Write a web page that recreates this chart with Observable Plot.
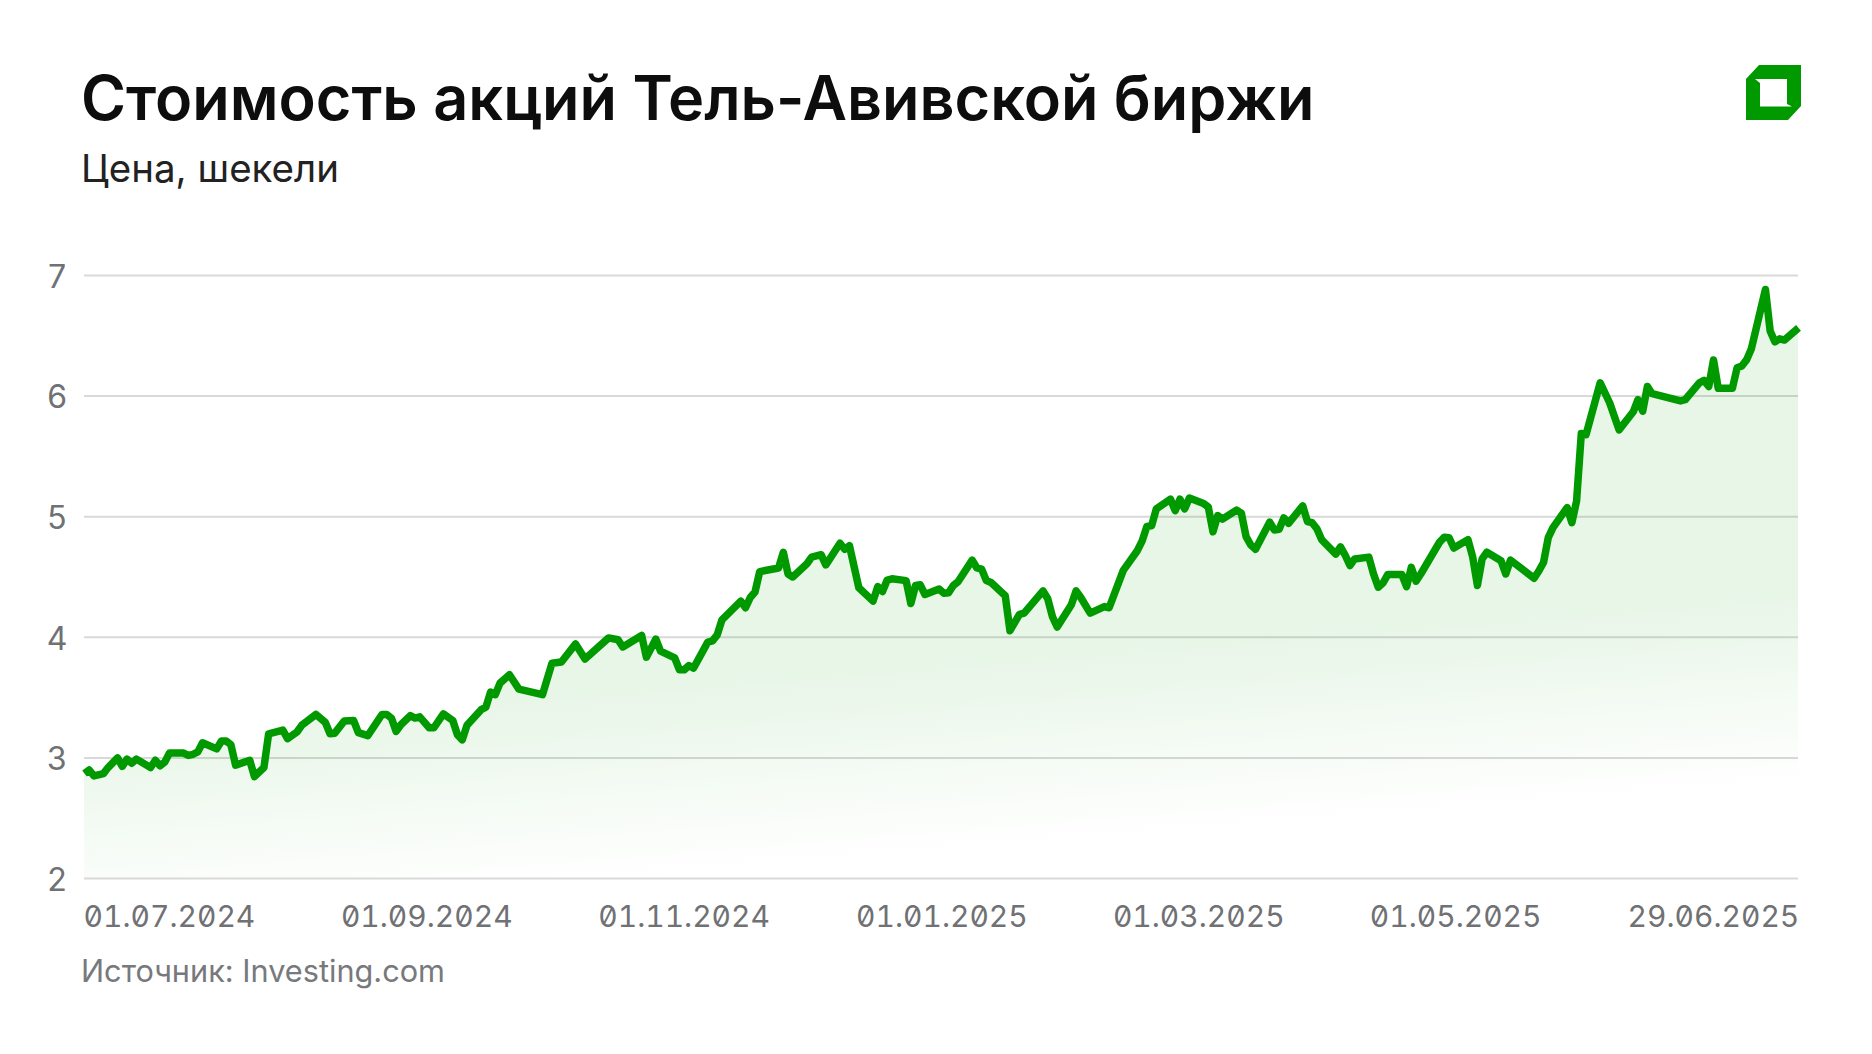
<!DOCTYPE html>
<html lang="ru">
<head>
<meta charset="utf-8">
<script src="https://cdn.jsdelivr.net/npm/d3@7"></script>
<script src="https://cdn.jsdelivr.net/npm/@observablehq/plot@0.6"></script>
<style>
html,body{margin:0;padding:0;background:#fff;width:1872px;height:1054px;overflow:hidden}
body{position:relative;font-family:Inter,"Noto Sans",sans-serif}
#title{position:absolute;left:81px;top:64px;font-size:61.2px;font-weight:600;line-height:68px;color:#0d0d0d;white-space:nowrap}
#subtitle{position:absolute;left:81px;top:145px;font-size:38.5px;line-height:46px;color:#222;white-space:nowrap}
#source{position:absolute;left:81px;top:949px;font-size:30.7px;line-height:44px;color:#77797c;white-space:nowrap}
#logo{position:absolute;left:-8px;top:0}
#chart{position:absolute;left:0;top:200px}
#chart svg{display:block;overflow:visible}
.xt text{font-feature-settings:"zero","tnum"}
</style>
</head>
<body>
<div id="title">Стоимость акций Тель-Авивской биржи</div>
<div id="subtitle">Цена, шекели</div>
<svg id="logo" width="1872" height="140"><path fill="#009900" fill-rule="evenodd" d="M1767 65H1809V106L1796 120H1754V79ZM1763 79H1795V104L1800 106.5H1768V83Z"/></svg>
<div id="chart"></div>
<div id="source">Источник: Investing.com</div>
<script>
const dayOffsets = [0,1,2,4,5,7,8,9,10,11,14,15,16,17,18,21,22,23,24,25,28,29,30,31,32,35,36,38,39,42,43,45,46,49,51,52,53,55,57,58,60,63,64,65,66,67,69,70,71,73,74,76,78,79,80,81,84,85,86,87,88,90,92,97,99,101,104,106,111,113,114,118,119,121,122,125,126,127,128,129,132,133,134,135,139,140,141,142,143,147,148,149,150,153,154,156,157,160,161,162,164,167,168,169,170,171,174,175,176,177,178,181,182,183,184,185,188,189,190,191,192,195,196,198,199,203,204,205,206,209,210,211,213,216,217,220,223,224,225,226,227,230,231,232,233,234,237,238,239,240,241,244,245,246,247,248,251,252,253,254,255,258,259,260,261,262,265,266,267,268,269,272,273,274,275,276,279,280,281,282,283,287,288,289,290,293,294,295,296,297,300,301,302,307,308,309,310,311,314,315,316,317,318,321,323,325,328,329,330,331,332,338,339,342,343,344,345,346,349,350,351,352,353,356,357,358,359,360,363];
const prices = [2.87,2.90,2.85,2.87,2.92,3.00,2.93,2.99,2.955,2.99,2.92,2.98,2.935,2.965,3.04,3.04,3.02,3.03,3.05,3.125,3.075,3.14,3.14,3.11,2.94,2.98,2.845,2.92,3.20,3.23,3.16,3.215,3.27,3.36,3.295,3.20,3.205,3.305,3.31,3.21,3.185,3.36,3.36,3.33,3.22,3.275,3.35,3.33,3.34,3.25,3.25,3.365,3.31,3.19,3.15,3.27,3.40,3.42,3.545,3.525,3.62,3.69,3.57,3.525,3.785,3.795,3.945,3.82,3.995,3.98,3.92,4.015,3.835,3.985,3.885,3.83,3.73,3.73,3.765,3.745,3.96,3.97,4.02,4.145,4.30,4.245,4.33,4.375,4.545,4.575,4.705,4.525,4.50,4.61,4.665,4.685,4.60,4.78,4.73,4.76,4.41,4.30,4.42,4.38,4.475,4.485,4.47,4.28,4.43,4.435,4.355,4.40,4.365,4.37,4.43,4.46,4.64,4.575,4.565,4.47,4.455,4.345,4.055,4.19,4.20,4.385,4.32,4.17,4.085,4.27,4.385,4.33,4.20,4.255,4.245,4.555,4.72,4.80,4.92,4.925,5.065,5.145,5.05,5.145,5.065,5.155,5.11,5.08,4.875,5.01,4.98,5.055,5.03,4.835,4.765,4.73,4.955,4.89,4.895,4.99,4.945,5.09,4.96,4.95,4.90,4.81,4.69,4.75,4.68,4.595,4.65,4.665,4.525,4.415,4.45,4.52,4.52,4.42,4.58,4.465,4.525,4.79,4.83,4.825,4.74,4.81,4.665,4.43,4.65,4.705,4.635,4.525,4.64,4.49,4.55,4.62,4.826,4.91,5.075,4.95,5.13,5.69,5.68,6.11,5.945,5.72,5.87,5.97,5.875,6.08,6.02,5.96,5.97,6.11,6.13,6.08,6.30,6.065,6.065,6.235,6.25,6.30,6.39,6.884,6.54,6.45,6.475,6.465,6.565];
const tickLabels = ["01.07.2024","01.09.2024","01.11.2024","01.01.2025","01.03.2025","01.05.2025","29.06.2025"];
const tickSlots = [-0.2,54.3,108.8,163.4,217.8,272.2,326.8];
const yTicks = [2,3,4,5,6,7];

const series = dayOffsets.map((d,i)=>({d,p:prices[i]}));
const ticks = tickLabels.map((label,i)=>({label,x:tickSlots[i]}));

const grad = () => {
  const g = d3.create("svg:defs");
  g.html(`<linearGradient id="fade" gradientUnits="userSpaceOnUse" x1="946" y1="467" x2="961" y2="652">
    <stop offset="0" stop-color="#009900" stop-opacity="0.09"/>
    <stop offset="1" stop-color="#009900" stop-opacity="0"/>
  </linearGradient>`);
  return g.node();
};

const plot = Plot.plot({
  width:1872, height:750,
  marginLeft:84, marginRight:74, marginTop:75, marginBottom:72,
  x:{domain:[0,363],axis:null},
  y:{domain:[2,7],axis:null},
  style:{fontFamily:'Inter,"Noto Sans",sans-serif',background:"transparent"},
  marks:[
    grad,
    Plot.gridY(yTicks,{stroke:"#d9d9d9",strokeOpacity:1,strokeWidth:2}),
    Plot.areaY(series,{x:"d",y1:2,y2:"p",fill:"url(#fade)"}),
    Plot.line(series,{x:"d",y:"p",stroke:"#009900",strokeWidth:7.5,strokeLinejoin:"round",strokeLinecap:"butt",curve:"linear"}),
    Plot.axisY(yTicks,{tickSize:0,tickPadding:17,fontSize:32,fill:"#6f7174",label:null,dy:2,tickFormat:"d"}),
    Plot.text(ticks,{x:"x",y:2,text:"label",textAnchor:"start",dy:39,fontSize:30,fill:"#6f7174",className:"xt"})
  ]
});
document.getElementById("chart").appendChild(plot);
</script>
</body>
</html>
